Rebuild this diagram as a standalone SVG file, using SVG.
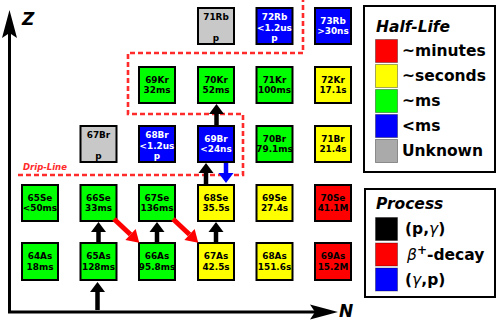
<svg xmlns="http://www.w3.org/2000/svg" width="498" height="323" viewBox="0 0 498 323">
<style>
text{font-family:"DejaVu Sans","Liberation Sans",sans-serif;font-weight:bold}
.n rect{stroke:#000;stroke-width:2}
.n text{font-size:8.9px;text-anchor:middle;fill:#000}
.w text{fill:#fff}
.g{fill:#00ff00}.y{fill:#ffff00}.r{fill:#ff0000}.b{fill:#0000ff}.u{fill:#c8c8c8}
.lg{fill:#fff;stroke:#000;stroke-width:2}
.sw{stroke:#000;stroke-opacity:0.35;stroke-width:1}
.lt{font-size:15.5px;fill:#000}
.ti{font-size:15.5px;font-style:italic;fill:#000}
.ar{stroke:#000;stroke-width:4.5;fill:none}
</style>
<defs>
<marker id="hk" markerUnits="userSpaceOnUse" markerWidth="11" markerHeight="15" refX="0" refY="7.5" orient="auto" overflow="visible"><path d="M0,0 L10,7.5 L0,15 Z" fill="#000"/></marker>
<marker id="hb" markerUnits="userSpaceOnUse" markerWidth="11" markerHeight="15" refX="0" refY="7.5" orient="auto" overflow="visible"><path d="M0,0 L10,7.5 L0,15 Z" fill="#0000ff"/></marker>
<marker id="hr" markerUnits="userSpaceOnUse" markerWidth="13" markerHeight="15" refX="0" refY="7.5" orient="auto" overflow="visible"><path d="M0,0 L12,7.5 L0,15 Z" fill="#ff0000"/></marker>
<marker id="ax" markerUnits="userSpaceOnUse" markerWidth="28" markerHeight="15" refX="7" refY="7.5" orient="auto" overflow="visible"><path d="M0,0 L28,7.5 L0,15 L5,7.5 Z" fill="#000"/></marker>
</defs>
<rect width="498" height="323" fill="#fff"/>

<g id="axes">
<path d="M9.5,313 L9.5,31" stroke="#000" stroke-width="3" fill="none" marker-end="url(#ax)"/>
<path d="M8,312 L317,312" stroke="#000" stroke-width="3" fill="none" marker-end="url(#ax)"/>
<text x="22" y="25" style="font-size:17px;font-style:italic">Z</text>
<text x="339" y="317" style="font-size:17px;font-style:italic">N</text>
</g>

<g id="drip-line">
<path d="M18,175 L243,175 L243,114 L128,114 L128,53 L303,53 L303,0" fill="none" stroke="#ff2a2a" stroke-width="2.6" stroke-dasharray="5,3"/>
<text x="23" y="170" style="font-size:8.5px;font-style:italic;fill:#ff2a2a">Drip-Line</text>
</g>

<g id="n71Rb" class="n"><rect class="u" x="198" y="8" width="36" height="36"/><text x="216" y="20">71Rb</text><text x="216" y="41">p</text></g>
<g id="n72Rb" class="n w"><rect class="b" x="256.5" y="8" width="36" height="36"/><text x="274.5" y="20">72Rb</text><text x="274.5" y="30.5">&lt;1.2us</text><text x="274.5" y="41">p</text></g>
<g id="n73Rb" class="n w"><rect class="b" x="315" y="8" width="36" height="36"/><text x="333" y="23.5">73Rb</text><text x="333" y="34">&gt;30ns</text></g>

<g id="n69Kr" class="n"><rect class="g" x="139" y="67" width="36" height="36"/><text x="157" y="82.5">69Kr</text><text x="157" y="93">32ms</text></g>
<g id="n70Kr" class="n"><rect class="g" x="198" y="67" width="36" height="36"/><text x="216" y="82.5">70Kr</text><text x="216" y="93">52ms</text></g>
<g id="n71Kr" class="n"><rect class="g" x="256.5" y="67" width="36" height="36"/><text x="274.5" y="82.5">71Kr</text><text x="274.5" y="93">100ms</text></g>
<g id="n72Kr" class="n"><rect class="y" x="315" y="67" width="36" height="36"/><text x="333" y="82.5">72Kr</text><text x="333" y="93">17.1s</text></g>

<g id="n67Br" class="n"><rect class="u" x="80.5" y="126" width="36" height="36"/><text x="98.5" y="138">67Br</text><text x="98.5" y="159">p</text></g>
<g id="n68Br" class="n w"><rect class="b" x="139" y="126" width="36" height="36"/><text x="157" y="138">68Br</text><text x="157" y="148.5">&lt;1.2us</text><text x="157" y="159">p</text></g>
<g id="n69Br" class="n w"><rect class="b" x="198" y="126" width="36" height="36"/><text x="216" y="141.5">69Br</text><text x="216" y="152">&lt;24ns</text></g>
<g id="n70Br" class="n"><rect class="g" x="256.5" y="126" width="36" height="36"/><text x="274.5" y="141.5">70Br</text><text x="274.5" y="152">79.1ms</text></g>
<g id="n71Br" class="n"><rect class="y" x="315" y="126" width="36" height="36"/><text x="333" y="141.5">71Br</text><text x="333" y="152">21.4s</text></g>

<g id="n65Se" class="n"><rect class="g" x="22" y="185" width="36" height="36"/><text x="40" y="200.5">65Se</text><text x="40" y="211">&lt;50ms</text></g>
<g id="n66Se" class="n"><rect class="g" x="80.5" y="185" width="36" height="36"/><text x="98.5" y="200.5">66Se</text><text x="98.5" y="211">33ms</text></g>
<g id="n67Se" class="n"><rect class="g" x="139" y="185" width="36" height="36"/><text x="157" y="200.5">67Se</text><text x="157" y="211">136ms</text></g>
<g id="n68Se" class="n"><rect class="y" x="198" y="185" width="36" height="36"/><text x="216" y="200.5">68Se</text><text x="216" y="211">35.5s</text></g>
<g id="n69Se" class="n"><rect class="y" x="256.5" y="185" width="36" height="36"/><text x="274.5" y="200.5">69Se</text><text x="274.5" y="211">27.4s</text></g>
<g id="n70Se" class="n"><rect class="r" x="315" y="185" width="36" height="36"/><text x="333" y="200.5">70Se</text><text x="333" y="211">41.1M</text></g>

<g id="n64As" class="n"><rect class="g" x="22" y="243" width="36" height="37"/><text x="40" y="259">64As</text><text x="40" y="269.5">18ms</text></g>
<g id="n65As" class="n"><rect class="g" x="80.5" y="243" width="36" height="37"/><text x="98.5" y="259">65As</text><text x="98.5" y="269.5">128ms</text></g>
<g id="n66As" class="n"><rect class="g" x="139" y="243" width="36" height="37"/><text x="157" y="259">66As</text><text x="157" y="269.5">95.8ms</text></g>
<g id="n67As" class="n"><rect class="y" x="198" y="243" width="36" height="37"/><text x="216" y="259">67As</text><text x="216" y="269.5">42.5s</text></g>
<g id="n68As" class="n"><rect class="y" x="256.5" y="243" width="36" height="37"/><text x="274.5" y="259">68As</text><text x="274.5" y="269.5">151.6s</text></g>
<g id="n69As" class="n"><rect class="r" x="315" y="243" width="36" height="37"/><text x="333" y="259">69As</text><text x="333" y="269.5">15.2M</text></g>

<g id="connectors">
<path class="ar" d="M97.5,310 L97.5,292" marker-end="url(#hk)"/>
<path class="ar" d="M98.5,242 L98.5,232" marker-end="url(#hk)"/>
<path class="ar" d="M157,242 L157,232" marker-end="url(#hk)"/>
<path class="ar" d="M216,242 L216,232" marker-end="url(#hk)"/>
<path class="ar" d="M206,184 L206,173" marker-end="url(#hk)"/>
<path class="ar" d="M216.5,125 L216.5,114" marker-end="url(#hk)"/>
<path d="M226,163 L226,173" stroke="#0000ff" stroke-width="4.5" fill="none" marker-end="url(#hb)"/>
<path d="M114,219 L130.5,234.5" stroke="#ff0000" stroke-width="5" fill="none" marker-end="url(#hr)"/>
<path d="M173,219 L189.5,234.5" stroke="#ff0000" stroke-width="5" fill="none" marker-end="url(#hr)"/>
</g>

<g id="legend-halflife">
<rect class="lg" x="364" y="6" width="131" height="166"/>
<text class="ti" x="376" y="32">Half-Life</text>
<rect class="sw" x="375.5" y="39.5" width="22" height="23" fill="#ff0000"/>
<rect class="sw" x="375.5" y="64.5" width="22" height="23" fill="#ffff00"/>
<rect class="sw" x="375.5" y="89.5" width="22" height="23" fill="#00ff00"/>
<rect class="sw" x="375.5" y="114.5" width="22" height="23" fill="#0000ff"/>
<rect class="sw" x="375.5" y="139.5" width="22" height="23" fill="#aaaaaa"/>
<text class="lt" x="402" y="56">~minutes</text>
<text class="lt" x="402" y="81">~seconds</text>
<text class="lt" x="402" y="106">~ms</text>
<text class="lt" x="402" y="131">&lt;ms</text>
<text class="lt" x="402" y="156">Unknown</text>
</g>

<g id="legend-process">
<rect class="lg" x="365" y="189" width="130" height="108"/>
<text class="ti" x="376" y="209">Process</text>
<rect class="sw" x="375.5" y="217.5" width="22" height="23" fill="#000"/>
<rect class="sw" x="375.5" y="243" width="22" height="23" fill="#ff0000"/>
<rect class="sw" x="375.5" y="268" width="22" height="23" fill="#0000ff"/>
<text class="lt" x="405" y="234">(p,<tspan style="font-style:italic;font-weight:normal">γ</tspan>)</text>
<text class="lt" x="407" y="260"><tspan style="font-style:italic;font-weight:normal">β</tspan><tspan dy="-6" style="font-size:12px">+</tspan><tspan dy="6">-decay</tspan></text>
<text class="lt" x="405" y="285">(<tspan style="font-style:italic;font-weight:normal">γ</tspan>,p)</text>
</g>
</svg>
